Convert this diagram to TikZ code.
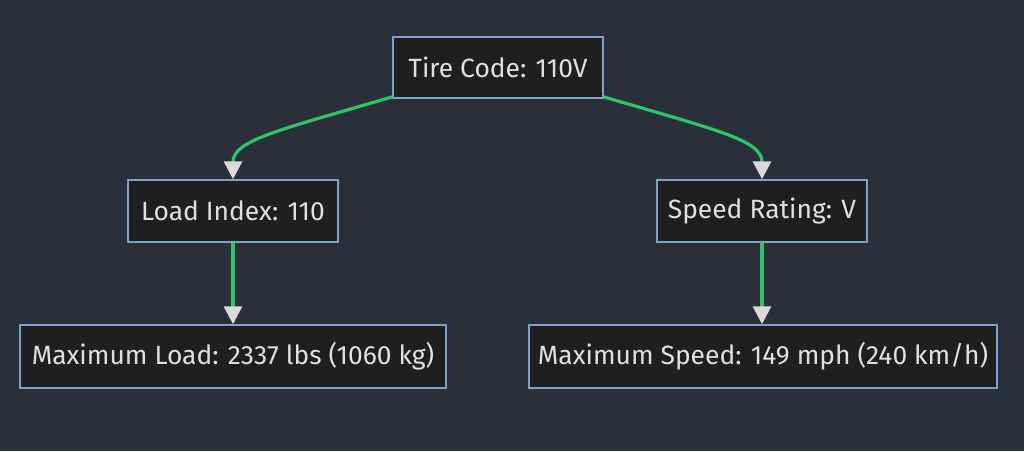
\documentclass[tikz,border=0pt]{standalone}
\usepackage{fontspec}
\setmainfont{Fira Sans}
\usetikzlibrary{arrows.meta}
\definecolor{bg}{HTML}{2A2F3A}
\definecolor{nodefill}{HTML}{1F1F1F}
\definecolor{nodeborder}{HTML}{7FA3C8}
\definecolor{txt}{HTML}{E0E0E0}
\definecolor{edge}{HTML}{2EC46A}
\definecolor{tipc}{HTML}{DADADA}
\tikzset{
  box/.style={draw=nodeborder, line width=1.1pt, fill=nodefill, text=txt,
    font=\fontsize{19.8}{22}\selectfont, inner sep=0pt, minimum height=46.5pt},
  link/.style={draw=edge, line width=2.4pt,
    -{Triangle[width=13.5pt,length=13.5pt,fill=tipc,color=tipc]}}
}
\begin{document}
\begin{tikzpicture}[x=0.75pt,y=-0.75pt]
\fill[bg] (0,0) rectangle (1024,451);
\useasboundingbox (0,0) rectangle (1024,451);
\node[box, minimum width=157.5pt, minimum height=45.75pt] (tire) at (498,67.5) {Tire Code: 110V};
\node[box, minimum width=157.5pt] (load) at (233,211) {Load Index: 110};
\node[box, minimum width=157.5pt] (speed) at (762,211) {Speed Rating: V};
\node[box, minimum width=319.5pt, minimum height=47.25pt] (maxload) at (233,356.5) {Maximum Load: 2337 lbs (1060 kg)};
\node[box, minimum width=351pt, minimum height=47.25pt] (maxspeed) at (763,356.5) {Maximum Speed: 149 mph (240 km/h)};
\draw[link] ([yshift=-22pt]tire.west) .. controls (280,130) and (233,140) .. (load.north);
\draw[link] ([yshift=-22pt]tire.east) .. controls (716,130) and (762,140) .. (speed.north);
\draw[link] (load.south) -- (maxload.north);
\draw[link] (speed.south) -- (speed.south |- maxspeed.north);
\end{tikzpicture}
\end{document}
